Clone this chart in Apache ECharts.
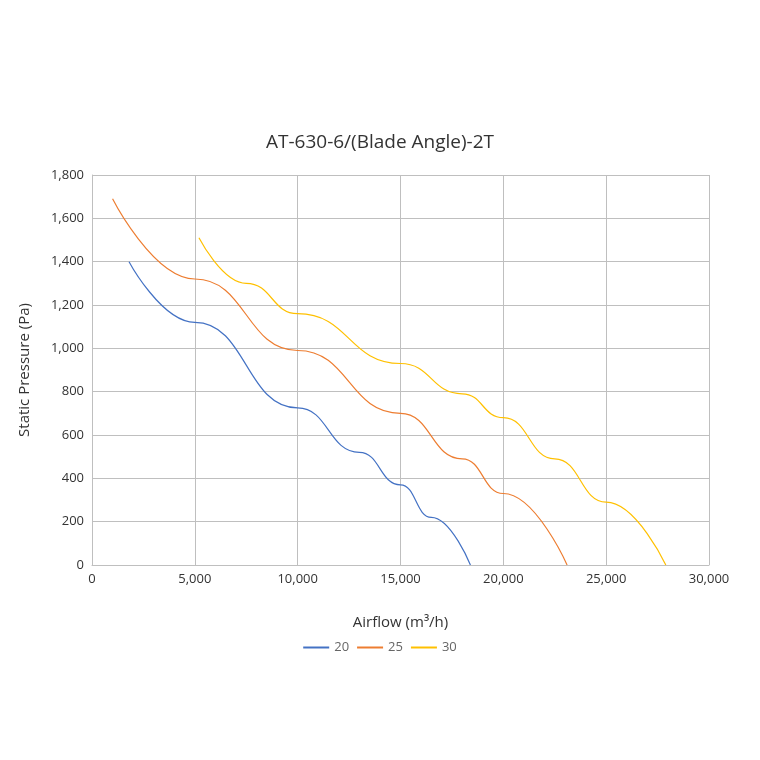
<!DOCTYPE html>
<html>
<head>
<meta charset="utf-8">
<script src="https://cdn.jsdelivr.net/npm/echarts@6/dist/echarts.min.js"></script>
<style>html,body{margin:0;padding:0;background:#fff}#chart{width:760px;height:760px}</style>
</head>
<body>
<div id="chart"></div>
<script>
// Airflow (m3/h) vs static pressure (Pa)
const series20 = [[1800, 1400], [5000, 1120], [10000, 725], [13000, 520], [15000, 370], [16500, 220], [18400, 0]];
const series25 = [[1000, 1690], [5000, 1320], [10000, 990], [15000, 700], [18000, 490], [20000, 330], [23100, 0]];
const series30 = [[5200, 1510], [7500, 1300], [10000, 1160], [15000, 930], [18000, 790], [20000, 680], [22500, 490], [25000, 290], [27900, 0]];
const seriesNames = ['20', '25', '30'];
const colors = ['#4472C4', '#ED7D31', '#FFC000'];

const chart = echarts.init(document.getElementById('chart'));
const fmt = v => v.toLocaleString('en-US');
chart.setOption({
    textStyle: { fontFamily: 'Open Sans' },
    title: { text: 'AT-630-6/(Blade Angle)-2T', left: 'center', top: 128,
        textStyle: { fontSize: 19, fontWeight: 'normal', color: '#333', fontFamily: 'Open Sans' } },
    grid: { left: 92, right: 51, top: 175, bottom: 195 },
    legend: { bottom: 101, left: 'center', itemWidth: 26, itemHeight: 2, icon: 'rect',
        textStyle: { color: '#666', fontSize: 13 }, data: seriesNames },
    xAxis: { type: 'value', min: 0, max: 30000, interval: 5000,
        name: 'Airflow (m³/h)', nameLocation: 'middle', nameGap: 50,
        nameTextStyle: { fontSize: 15, color: '#333' },
        axisLabel: { formatter: fmt, color: '#333', fontSize: 13 },
        axisLine: { lineStyle: { color: '#bfbfbf' } }, axisTick: { show: false },
        splitLine: { show: true, lineStyle: { color: '#bfbfbf' } } },
    yAxis: { type: 'value', min: 0, max: 1800, interval: 200,
        name: 'Static Pressure (Pa)', nameLocation: 'middle', nameGap: 60,
        nameTextStyle: { fontSize: 15, color: '#333' },
        axisLabel: { formatter: fmt, color: '#333', fontSize: 13 },
        axisLine: { show: true, lineStyle: { color: '#bfbfbf' } }, axisTick: { show: false },
        splitLine: { lineStyle: { color: '#bfbfbf' } } },
    series: [series20, series25, series30].map((d, i) => ({
        name: seriesNames[i], type: 'line', data: d, smooth: 0.5, smoothMonotone: 'x', showSymbol: false,
        itemStyle: { color: colors[i] }, lineStyle: { width: 1.2, color: colors[i] }
    }))
});
</script>
</body>
</html>
